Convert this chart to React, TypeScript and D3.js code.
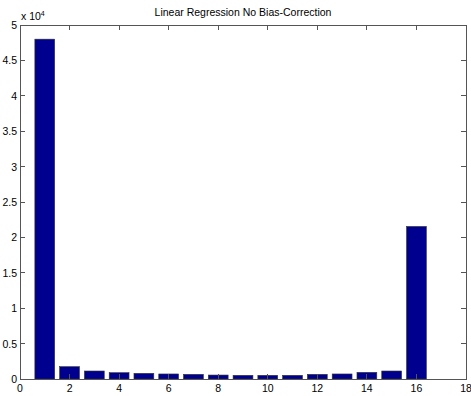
import React from 'react';
import * as d3 from 'd3';

// bar heights (units of 1e4)
const positions = [1, 2, 3, 4, 5, 6, 7, 8, 9, 10, 11, 12, 13, 14, 15, 16];
const values = [4.8, 0.174, 0.113, 0.089, 0.08, 0.071, 0.066, 0.056, 0.052, 0.052, 0.052, 0.066, 0.071, 0.094, 0.113, 2.155];
const xTicks = [0, 2, 4, 6, 8, 10, 12, 14, 16, 18];
const yTicks = [0, 0.5, 1, 1.5, 2, 2.5, 3, 3.5, 4, 4.5, 5];
const title = 'Linear Regression No Bias-Correction';

const W = 471;
const H = 396;
const margin = { top: 25, right: 5, bottom: 17, left: 20 };
const font = 'Liberation Sans, Arial, Helvetica, sans-serif';

const App = () => {
  const x = d3.scaleLinear().domain([0, 18]).range([margin.left, W - margin.right]);
  const y = d3.scaleLinear().domain([0, 5]).range([H - margin.bottom, margin.top]);
  const barW = x(0.8) - x(0);
  const tick = 5;
  const axisColor = '#555';

  return (
    <svg width={W} height={H} style={{ position: 'absolute', left: 0, top: 0, background: '#fff' }}>
      <rect x={0} y={0} width={W} height={H} fill="#fff" />
      {positions.map((p, i) => (
        <rect
          key={p}
          x={x(p) - barW / 2}
          y={y(values[i])}
          width={barW}
          height={y(0) - y(values[i])}
          fill="#00008f"
          stroke="#333"
          strokeWidth={0.6}
        />
      ))}
      <g stroke={axisColor} strokeWidth={1} fill="none" shapeRendering="crispEdges">
        <rect x={x(0)} y={y(5)} width={x(18) - x(0)} height={y(0) - y(5)} />
        {xTicks.map(t => (
          <g key={'x' + t}>
            <line x1={x(t)} x2={x(t)} y1={y(0)} y2={y(0) - tick} />
            <line x1={x(t)} x2={x(t)} y1={y(5)} y2={y(5) + tick} />
          </g>
        ))}
        {yTicks.map(t => (
          <g key={'y' + t}>
            <line x1={x(0)} x2={x(0) + tick} y1={y(t)} y2={y(t)} />
            <line x1={x(18)} x2={x(18) - tick} y1={y(t)} y2={y(t)} />
          </g>
        ))}
      </g>
      <g fontFamily={font} fontSize={10.5} fill="#000">
        {xTicks.map(t => (
          <text key={'xl' + t} x={x(t)} y={y(0) + 13} textAnchor="middle">{t}</text>
        ))}
        {yTicks.map(t => (
          <text key={'yl' + t} x={x(0) - 3} y={y(t) + 4} textAnchor="end">{t}</text>
        ))}
        <text x={x(0) + 1} y={y(5) - 5}>
          x 10
          <tspan fontSize={7} dy={-4}>4</tspan>
        </text>
        <text x={(x(0) + x(18)) / 2} y={16} textAnchor="middle">{title}</text>
      </g>
    </svg>
  );
};

export default App;
